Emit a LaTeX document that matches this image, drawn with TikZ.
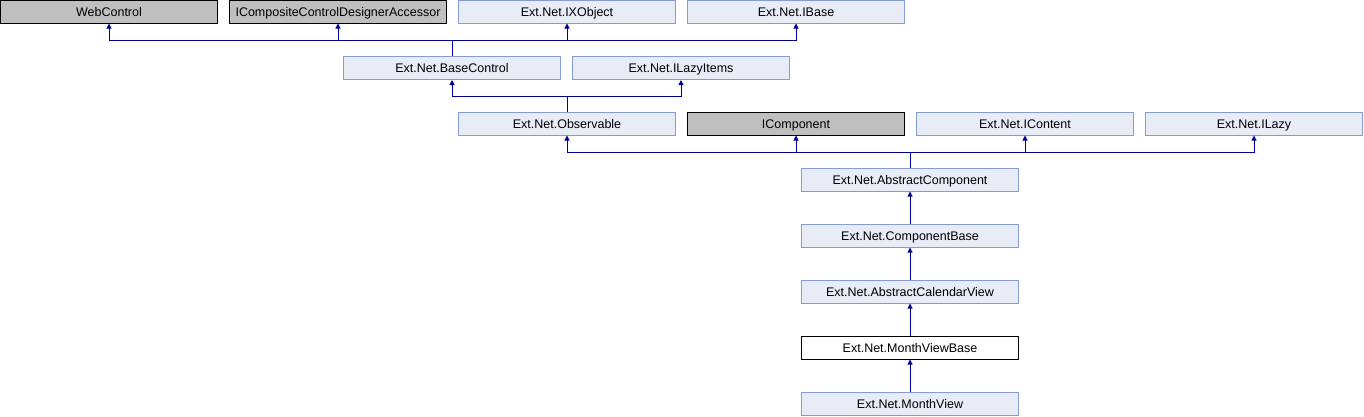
\documentclass[tikz,border=0pt]{standalone}
\usepackage{fontspec}
\setmainfont{Liberation Sans}
\usetikzlibrary{arrows.meta}
\definecolor{boxfill}{RGB}{232,236,247}
\definecolor{boxline}{RGB}{132,156,208}
\definecolor{extfill}{RGB}{191,191,191}
\definecolor{linkblue}{RGB}{0,0,150}
\begin{document}
\begin{tikzpicture}[x=1pt, y=-1pt,
    cls/.style={draw=boxline, fill=boxfill, line width=1pt, minimum width=217pt,
        minimum height=23pt, inner sep=0pt, text height=9pt, text depth=0pt,
        font=\fontsize{12.5}{14}\selectfont},
    extcls/.style={cls, draw=black, fill=extfill},
    curcls/.style={cls, draw=black, fill=white},
    inh/.style={draw=linkblue, line width=1pt, -{Triangle[length=5pt, width=5pt]}}]
    \useasboundingbox (0,0) rectangle (1364,416);
    % Row 1
    \node[extcls] (webctl) at (109,11.5) {WebControl};
    \node[extcls] (iccda) at (338,11.5) {ICompositeControlDesignerAccessor};
    \node[cls] (ixobj) at (567,11.5) {Ext.Net.IXObject};
    \node[cls] (ibase) at (796,11.5) {Ext.Net.IBase};
    % Row 2
    \node[cls] (basectl) at (452,68) {Ext.Net.BaseControl};
    \node[cls] (ilazyit) at (681,68) {Ext.Net.ILazyItems};
    % Row 3
    \node[cls] (observ) at (567,123.5) {Ext.Net.Observable};
    \node[extcls] (icomp) at (796,123.5) {IComponent};
    \node[cls] (icontent) at (1025,123.5) {Ext.Net.IContent};
    \node[cls] (ilazy) at (1254,123.5) {Ext.Net.ILazy};
    % Chain
    \node[cls] (abscomp) at (910,179.5) {Ext.Net.AbstractComponent};
    \node[cls] (compbase) at (910,235.5) {Ext.Net.ComponentBase};
    \node[cls] (abscal) at (910,291.5) {Ext.Net.AbstractCalendarView};
    \node[curcls] (mvbase) at (910,347.5) {Ext.Net.MonthViewBase};
    \node[cls] (mview) at (910,403.5) {Ext.Net.MonthView};
    % Bus points
    \coordinate (bus1) at (452,40);
    \coordinate (bus2) at (567,96.5);
    \coordinate (bus3) at (910,152.5);
    % Base control to row 1
    \draw[linkblue, line width=1pt] (basectl.north) -- (bus1);
    \foreach \p in {webctl, iccda, ixobj, ibase}
        \draw[inh] (bus1) -| (\p.south);
    % Observable to row 2
    \draw[linkblue, line width=1pt] (observ.north) -- (bus2);
    \foreach \p in {basectl, ilazyit}
        \draw[inh] (bus2) -| (\p.south);
    % Abstract component to row 3
    \draw[linkblue, line width=1pt] (abscomp.north) -- (bus3);
    \foreach \p in {observ, icomp, icontent, ilazy}
        \draw[inh] (bus3) -| (\p.south);
    % Chain links
    \draw[inh] (compbase) -- (abscomp);
    \draw[inh] (abscal) -- (compbase);
    \draw[inh] (mvbase) -- (abscal);
    \draw[inh] (mview) -- (mvbase);
\end{tikzpicture}
\end{document}
